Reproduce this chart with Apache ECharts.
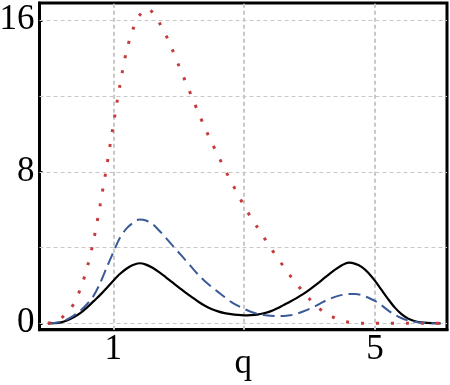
<!DOCTYPE html>
<html>
<head>
<meta charset="utf-8">
<script src="https://cdn.jsdelivr.net/npm/echarts@6/dist/echarts.min.js"></script>
<style>
  html, body { margin: 0; padding: 0; background: #fff; }
  #chart { width: 450px; height: 385px; }
</style>
</head>
<body>
<div id="chart"></div>
<script>
// q values shared by all three curves
const qValues = [0, 0.1, 0.2, 0.3, 0.4, 0.5, 0.6, 0.7, 0.8, 0.9, 1.0, 1.1, 1.2, 1.3, 1.4, 1.5, 1.6, 1.7, 1.8, 1.9,
  2.0, 2.1, 2.2, 2.3, 2.4, 2.5, 2.6, 2.7, 2.8, 2.9, 3.0, 3.1, 3.2, 3.3, 3.4, 3.5, 3.6, 3.7, 3.8, 3.9,
  4.0, 4.1, 4.2, 4.3, 4.4, 4.5, 4.6, 4.7, 4.8, 4.9, 5.0, 5.1, 5.2, 5.3, 5.4, 5.5, 5.6, 5.7, 5.8, 5.9, 6.0];
const solidValues = [0, 0.01, 0.05, 0.16, 0.33, 0.55, 0.84, 1.17, 1.5, 1.87, 2.25, 2.6, 2.88, 3.08, 3.17, 3.1, 2.93, 2.7, 2.44, 2.17,
  1.9, 1.63, 1.38, 1.14, 0.93, 0.76, 0.63, 0.54, 0.48, 0.44, 0.42, 0.43, 0.46, 0.53, 0.63, 0.78, 0.96, 1.14, 1.33, 1.54,
  1.78, 2.04, 2.32, 2.6, 2.86, 3.08, 3.2, 3.14, 2.97, 2.66, 2.24, 1.76, 1.28, 0.84, 0.5, 0.26, 0.12, 0.05, 0.02, 0.01, 0];
const dashedValues = [0, 0.02, 0.08, 0.22, 0.42, 0.68, 1.02, 1.46, 2.13, 2.95, 3.75, 4.5, 5.0, 5.3, 5.48, 5.43, 5.24, 4.9, 4.52, 4.13,
  3.74, 3.35, 2.95, 2.56, 2.22, 1.93, 1.66, 1.39, 1.13, 0.93, 0.76, 0.61, 0.5, 0.44, 0.4, 0.39, 0.39, 0.42, 0.5, 0.62,
  0.76, 0.93, 1.12, 1.28, 1.41, 1.5, 1.55, 1.55, 1.48, 1.35, 1.18, 0.95, 0.68, 0.45, 0.28, 0.16, 0.08, 0.04, 0.01, 0, 0];
const dottedValues = [0, 0.07, 0.26, 0.58, 1.05, 1.85, 2.93, 4.4, 6.27, 8.31, 10.48, 12.55, 14.35, 15.52, 16.25, 16.62, 16.42, 15.9, 15.25, 14.47,
  13.62, 12.79, 11.96, 11.13, 10.32, 9.57, 8.87, 8.16, 7.49, 6.84, 6.19, 5.61, 5.08, 4.55, 4.0, 3.51, 3.01, 2.53, 2.08, 1.67,
  1.28, 0.93, 0.64, 0.43, 0.26, 0.13, 0.05, 0.02, 0, 0, 0, 0, 0, 0, 0, 0, 0, 0, 0, 0, 0];

const xLabelTicks = [1, 5];
const xTicks = [1, 3, 5];
const xGrid = [1, 3, 5];
const yLabelTicks = [0, 8, 16];
const yGrid = [0, 4, 8, 12, 16];

const pairs = vals => qValues.map((q, i) => [q, vals[i]]);

const chart = echarts.init(document.getElementById('chart'));
const font = 'Liberation Serif';

const option = {
  animation: false,
  grid: {
    left: 39.5, right: 3, top: 3, bottom: 55.3,
    outerBoundsMode: 'none',
    containLabel: false,
    show: true, borderColor: '#000', borderWidth: 3
  },
  xAxis: {
    type: 'value',
    min: -0.128, max: 6.1,
    name: 'q',
    nameLocation: 'middle',
    nameGap: 17,
    nameMoveOverlap: false,
    nameTextStyle: { fontFamily: font, fontSize: 35, color: '#000', verticalAlign: 'top' },
    axisLine: { show: true, onZero: false, lineStyle: { color: '#000', width: 3 } },
    axisTick: { show: true, inside: true, length: 3, customValues: xTicks, lineStyle: { color: '#000', width: 2 } },
    axisLabel: { customValues: xLabelTicks, margin: 3, fontFamily: font, fontSize: 35, color: '#000' },
    splitLine: { show: false }
  },
  yAxis: {
    type: 'value',
    min: -0.338, max: 16.913,
    axisLine: { show: true, onZero: false, lineStyle: { color: '#000', width: 3 } },
    axisTick: { show: true, inside: true, length: 3, customValues: yLabelTicks, lineStyle: { color: '#000', width: 2 } },
    axisLabel: { customValues: yLabelTicks, margin: 5, fontFamily: font, fontSize: 35, color: '#000' },
    splitLine: { show: false }
  },
  series: [
    {
      type: 'line',
      data: [],
      z: 1,
      silent: true,
      markLine: {
        z: 1,
        silent: true,
        symbol: 'none',
        label: { show: false },
        data: [
          ...xGrid.map(v => ({ xAxis: v, lineStyle: { color: '#c8c8c8', width: 2, type: [4, 3] } })),
          ...yGrid.map(v => ({ yAxis: v, lineStyle: { color: '#c8c8c8', width: 1.2, type: [4, 3] } }))
        ]
      }
    },
    {
      name: 'solid',
      type: 'line',
      z: 3,
      data: pairs(solidValues),
      smooth: 0.3,
      showSymbol: false,
      lineStyle: { color: '#000', width: 2.2 }
    },
    {
      name: 'dashed',
      type: 'line',
      z: 3,
      data: pairs(dashedValues),
      smooth: 0.3,
      showSymbol: false,
      lineStyle: { color: '#3b5a98', width: 2, type: [12, 6] }
    },
    {
      name: 'dotted',
      type: 'line',
      z: 3,
      data: pairs(dottedValues),
      smooth: 0.3,
      showSymbol: false,
      lineStyle: { color: '#c43c3c', width: 3, type: [3, 12] }
    }
  ]
};
chart.setOption(option);
</script>
</body>
</html>
